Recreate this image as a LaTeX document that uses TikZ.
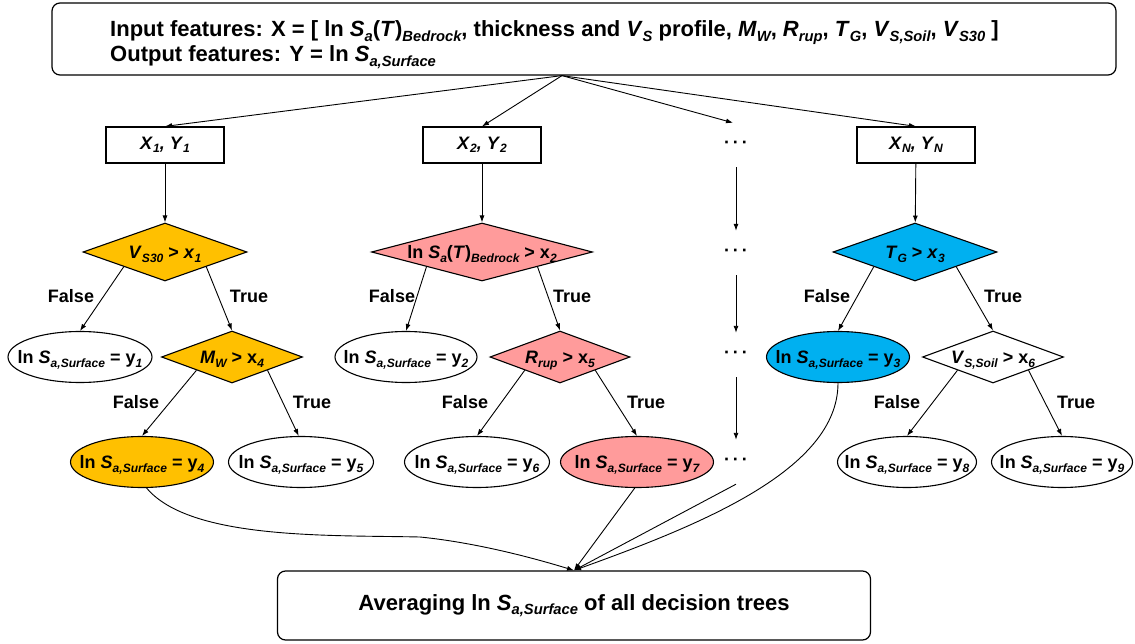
\documentclass[tikz,border=0pt]{standalone}
\usepackage{fontspec}
\setmainfont{Liberation Sans}
\usetikzlibrary{shapes.geometric,arrows.meta}
\makeatletter
\newcommand\sbt[1]{\raisebox{-0.2em}{\fontsize{\strip@pt\dimexpr0.67\dimexpr\f@size pt\relax\relax}{1}\selectfont\itshape #1}}
\makeatother
\newcommand\z[1]{\makebox[0pt]{#1}}
\newcommand\lnS{ln \textit{S}\sbt{a,Surface}}
\newcommand\dotsrow{·\hspace{3pt}·\hspace{3pt}·}
\definecolor{orangec}{HTML}{FFC000}
\definecolor{pinkc}{HTML}{FF9B9B}
\definecolor{bluec}{HTML}{00B0F0}
\tikzset{
  every node/.style={font=\fontsize{18}{21}\selectfont\bfseries},
  bigbox/.style={draw, rounded corners=8pt, line width=1.2pt, inner sep=0pt},
  toptext/.style={font=\fontsize{22}{26}\selectfont\bfseries, inner sep=0pt},
  xbox/.style={draw, line width=1.2pt, minimum width=118pt, minimum height=36pt, inner sep=0pt},
  dia/.style={draw, diamond, line width=1.1pt, inner sep=0pt, text height=13pt, text depth=0pt},
  ell/.style={draw, ellipse, line width=1.1pt, inner sep=0pt, minimum width=143pt, minimum height=51pt, text height=13pt, text depth=0pt},
  dotsnode/.style={inner sep=0pt, minimum height=44pt},
  lbl/.style={inner sep=0pt},
  arr/.style={-{Latex[length=7pt,width=5pt]}, line width=0.9pt},
  con/.style={line width=0.9pt}
}
\begin{document}
\begin{tikzpicture}[x=1pt,y=-1pt]
\useasboundingbox (0,0) rectangle (1135,644);
% top box
\node[bigbox, minimum width=1064pt, minimum height=72pt] (TB) at (584,39) {};
\node[toptext, anchor=base west] (TL1) at (110,37) {Input features: X = [ ln \textit{S}\sbt{a}(\textit{T})\sbt{Bedrock}, thickness and \textit{V}\sbt{S} profile, \textit{M}\sbt{W}, \textit{R}\sbt{rup}, \textit{T}\sbt{G}, \textit{V}\sbt{S,Soil}, \textit{V}\sbt{S30} ]};
\node[toptext, anchor=base west] (TL2) at (110,62) {Output features: Y = \lnS};
\coordinate (src) at ([xshift=-22pt]TB.south);
% bottom box
\node[bigbox, minimum width=593pt, minimum height=69pt, font=\fontsize{22}{26}\selectfont\bfseries] (B) at (574,605.5) {Averaging \lnS{} of all decision trees};
% tree 1
\node[xbox] (X1) at (165,145) {\textit{X}\sbt{1}\textit{, Y}\sbt{1}};
\node[dia, fill=orangec, minimum width=164pt, minimum height=58pt] (D1) at (165,252) {\z{\textit{V}\sbt{S30} > \textit{x}\sbt{1}}};
\node[ell, minimum width=144pt] (L1) at (80,357) {\z{\lnS{} = y\sbt{1}}};
\node[dia, fill=orangec, minimum width=141pt, minimum height=52pt] (DM) at (232,357) {\z{\textit{M}\sbt{W} > x\sbt{4}}};
\node[ell, fill=orangec] (L4) at (142,462) {\z{\lnS{} = y\sbt{4}}};
\node[ell, minimum width=145pt] (L5) at (301,462) {\z{\lnS{} = y\sbt{5}}};
% tree 2
\node[xbox] (X2) at (482,145) {\textit{X}\sbt{2}\textit{, Y}\sbt{2}};
\node[dia, fill=pinkc, minimum width=221pt, minimum height=58pt] (D2) at (482,252) {\z{ln \textit{S}\sbt{a}(\textit{T})\sbt{Bedrock} > x\sbt{2}}};
\node[ell, minimum width=142pt] (L2) at (406,357) {\z{\lnS{} = y\sbt{2}}};
\node[dia, fill=pinkc, minimum width=140pt, minimum height=52pt] (DR) at (560,357) {\z{\textit{R}\sbt{rup} > x\sbt{5}}};
\node[ell, minimum width=145pt] (L6) at (477,462) {\z{\lnS{} = y\sbt{6}}};
\node[ell, fill=pinkc, minimum width=153pt] (L7) at (637,462) {\z{\lnS{} = y\sbt{7}}};
% dots column
\node[dotsnode] (E1) at (736,145) {\dotsrow};
\node[dotsnode] (E2) at (736,253) {\dotsrow};
\node[dotsnode] (E3) at (736,355) {\dotsrow};
\node[dotsnode] (E4) at (736,462) {\dotsrow};
% tree N
\node[xbox] (XN) at (916,145) {\textit{X}\sbt{N}\textit{, Y}\sbt{N}};
\node[dia, fill=bluec, minimum width=164pt, minimum height=58pt] (DN) at (915,252) {\z{\textit{T}\sbt{G} > \textit{x}\sbt{3}}};
\node[ell, fill=bluec] (L3) at (838,357) {\z{\lnS{} = y\sbt{3}}};
\node[dia, fill=white, minimum width=141pt, minimum height=52pt] (DV) at (993,357) {\z{\textit{V}\sbt{S,Soil} > x\sbt{6}}};
\node[ell, minimum width=139pt] (L8) at (907,462) {\z{\lnS{} = y\sbt{8}}};
\node[ell, minimum width=141pt] (L9) at (1062,462) {\z{\lnS{} = y\sbt{9}}};
% labels
\node[lbl] (F1) at (71,296) {False};
\node[lbl] (T1) at (249,296) {True};
\node[lbl] (F4) at (136,402) {False};
\node[lbl] (T4) at (312,402) {True};
\node[lbl] (F2) at (392,296) {False};
\node[lbl] (T2) at (572,296) {True};
\node[lbl] (F5) at (465,402) {False};
\node[lbl] (T5) at (646,402) {True};
\node[lbl] (F3) at (827,296) {False};
\node[lbl] (T3) at (1003,296) {True};
\node[lbl] (F6) at (897,402) {False};
\node[lbl] (T6) at (1076,402) {True};
% connectors from top
\draw[arr] (src) -- (X1.north);
\draw[arr] (src) -- (X2.north);
\draw[arr] (src) -- ([xshift=-3pt]E1.north);
\draw[arr] (src) -- (XN.north);
\draw[arr] (X1) -- (D1);
\draw[arr] (X2) -- (D2);
\draw[arr] (XN) -- (DN);
\draw[arr] (E1) -- (E2);
\draw[arr] (E2) -- (E3);
\draw[arr] (E3) -- (E4);
% tree branches
\draw[arr] (D1.south west) -- (L1.north);
\draw[arr] (D1.south east) -- (DM.north);
\draw[arr] (DM.south west) -- (L4.north);
\draw[arr] (DM.south east) -- (L5.95);
\draw[arr] (D2.south west) -- (L2.north);
\draw[arr] (D2.south east) -- (DR.north);
\draw[arr] (DR.south west) -- (L6.north);
\draw[arr] (DR.south east) -- (L7.north);
\draw[arr] (DN.south west) -- (L3.north);
\draw[arr] (DN.south east) -- (DV.north);
\draw[arr] (DV.south west) -- (L8.north);
\draw[arr] (DV.south east) -- (L9.north);
% converging to bottom box
\draw[arr] (L4.-80) .. controls (190,540) and (330,535) .. (420,537) .. controls (480,543) and (540,560) .. (B.north);
\draw[arr] (L7.-95) -- (B.north);
\draw[arr] (E4.south) -- (B.north);
\draw[arr] (L3.south) .. controls (838,470) and (700,525) .. (B.north);
\end{tikzpicture}
\end{document}
